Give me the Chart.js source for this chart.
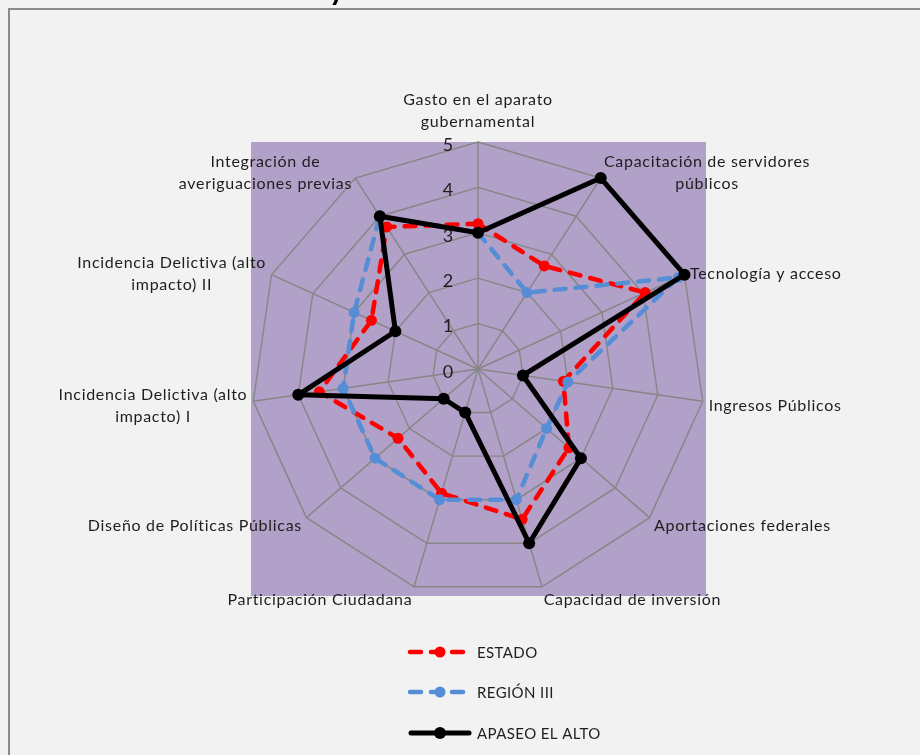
<!DOCTYPE html>
<html><head><meta charset="utf-8">
<script src="https://cdn.jsdelivr.net/npm/chart.js@4/dist/chart.umd.min.js"></script>
<style>html,body{margin:0;padding:0;background:#F2F2F2;}canvas{display:block;}</style>
</head><body>
<canvas id="c" width="920" height="755"></canvas>
<script>
const categories = [
  ['Gasto en el aparato', 'gubernamental'],
  ['Capacitación de servidores', 'públicos'],
  'Tecnología y acceso',
  'Ingresos Públicos',
  'Aportaciones federales',
  'Capacidad de inversión',
  'Participación Ciudadana',
  'Diseño de Políticas Públicas',
  ['Incidencia Delictiva (alto', 'impacto) I'],
  ['Incidencia Delictiva (alto', 'impacto) II'],
  ['Integración de', 'averiguaciones previas']
];
const estado = [3.2, 2.7, 4.05, 1.9, 2.65, 3.45, 2.85, 2.33, 3.53, 2.58, 3.72];
const region = [3.0, 2.0, 4.85, 2.0, 2.0, 3.0, 3.0, 3.0, 3.0, 3.0, 4.0];
const apaseo = [3, 5, 5, 1, 3, 4, 1, 1, 4, 2, 4];
const tickLabels = ['0', '1', '2', '3', '4', '5'];
const seriesNames = ['ESTADO', 'REGIÓN III', 'APASEO EL ALTO'];

const FONT = 'Lato, "Open Sans", sans-serif';
const TEXT = '#1e1e1e';

const backgroundPlugin = {
  id: 'bg',
  beforeDraw(chart) {
    const ctx = chart.ctx;
    const s = chart.scales.r;
    ctx.save();
    ctx.fillStyle = '#F2F2F2';
    ctx.fillRect(0, 0, chart.width, chart.height);
    ctx.fillStyle = '#000';
    ctx.font = 'bold 30px ' + FONT;
    ctx.textBaseline = 'alphabetic';
    ctx.fillText('y', 329, 0);
    ctx.strokeStyle = '#8a8a8a';
    ctx.lineWidth = 2;
    ctx.beginPath();
    ctx.moveTo(9, chart.height);
    ctx.lineTo(9, 9);
    ctx.lineTo(chart.width, 9);
    ctx.stroke();
    ctx.fillStyle = '#B1A0C7';
    const r = s.drawingArea;
    ctx.fillRect(s.xCenter - r, s.yCenter - r, 2 * r + 1, 2 * r);
    ctx.restore();
  },
  beforeDatasetsDraw(chart) {
    const ctx = chart.ctx;
    const s = chart.scales.r;
    ctx.save();
    ctx.fillStyle = TEXT;
    ctx.font = '18px ' + FONT;
    ctx.textAlign = 'center';
    ctx.textBaseline = 'middle';
    s.ticks.forEach((t, i) => {
      const d = s.getDistanceFromCenterForValue(t.value);
      ctx.fillText(tickLabels[i], s.xCenter - 30, s.yCenter - d + 3);
    });
    ctx.restore();
  },
  afterDraw(chart) {
    const ctx = chart.ctx;
    const s = chart.scales.r;
    ctx.save();
    ctx.fillStyle = TEXT;
    ctx.font = '16px ' + FONT;
    ctx.letterSpacing = '0.7px';
    ctx.textBaseline = 'middle';
    const lh = 22;
    chart.data.labels.forEach((lab, i) => {
      const lines = Array.isArray(lab) ? lab : [lab];
      const p = s.getPointPosition(i, s.drawingArea + 6);
      const dx = p.x - s.xCenter;
      const c = (s.yCenter - p.y) / (s.drawingArea + 6);
      const widths = lines.map(l => ctx.measureText(l).width);
      const w = Math.max(...widths);
      const h = lines.length * lh;
      let left;
      if (Math.abs(dx) < 1) left = p.x - w / 2;
      else if (dx > 0) left = p.x;
      else left = p.x - w;
      let top;
      if (c > 0.95) top = p.y - 3 - h;
      else if (c < -0.95) top = p.y - 4;
      else top = p.y - h / 2 + (c < 0 ? 4 : (c < 0.6 ? 1.5 : 0));
      ctx.textAlign = 'center';
      lines.forEach((l, k) => {
        ctx.fillText(l, left + w / 2, top + lh / 2 + k * lh);
      });
    });
    const dss = chart.data.datasets;
    const rows = [652, 692, 733];
    dss.forEach((ds, i) => {
      const y = rows[i];
      ctx.save();
      ctx.strokeStyle = ds.borderColor;
      ctx.lineWidth = ds.borderDash ? 4.5 : 5;
      ctx.lineCap = 'round';
      ctx.setLineDash(ds.borderDash || []);
      ctx.beginPath();
      if (ds.borderDash && ds.borderDash.length) {
        ctx.moveTo(410, y); ctx.lineTo(463, y);
      } else {
        ctx.moveTo(411, y); ctx.lineTo(469, y);
      }
      ctx.stroke();
      ctx.setLineDash([]);
      ctx.fillStyle = ds.pointBackgroundColor;
      ctx.beginPath();
      ctx.arc(440, y, ds.pointRadius, 0, Math.PI * 2);
      ctx.fill();
      ctx.restore();
      ctx.fillStyle = TEXT;
      ctx.textAlign = 'left';
      ctx.font = '15px ' + FONT;
      ctx.letterSpacing = '0.4px';
      ctx.fillText(ds.label, 477, y + 1);
    });
    ctx.restore();
  }
};

new Chart(document.getElementById('c'), {
  type: 'radar',
  data: {
    labels: categories,
    datasets: [
      {
        label: seriesNames[0], data: estado,
        borderColor: '#FF0000', backgroundColor: '#FF0000',
        pointBackgroundColor: '#FF0000', pointBorderColor: '#FF0000',
        borderWidth: 4.5, borderDash: [11, 10], borderCapStyle: 'round', borderJoinStyle: 'round',
        pointRadius: 5.5, pointBorderWidth: 0, fill: false, order: 3
      },
      {
        label: seriesNames[1], data: region,
        borderColor: '#558ED5', backgroundColor: '#558ED5',
        pointBackgroundColor: '#558ED5', pointBorderColor: '#558ED5',
        borderWidth: 4.5, borderDash: [11, 10], borderCapStyle: 'round', borderJoinStyle: 'round',
        pointRadius: 5.5, pointBorderWidth: 0, fill: false, order: 2
      },
      {
        label: seriesNames[2], data: apaseo,
        borderColor: '#000000', backgroundColor: '#000000',
        pointBackgroundColor: '#000000', pointBorderColor: '#000000',
        borderWidth: 5, borderCapStyle: 'round', borderJoinStyle: 'round',
        pointRadius: 6, pointBorderWidth: 0, fill: false, order: 1
      }
    ]
  },
  options: {
    responsive: false,
    animation: false,
    devicePixelRatio: 1,
    layout: { padding: { left: 251, right: 215, top: 142, bottom: 159 } },
    plugins: { legend: { display: false }, tooltip: { enabled: false }, title: { display: false } },
    elements: { line: { tension: 0 } },
    scales: {
      r: {
        min: 0, max: 5,
        ticks: { stepSize: 1, display: false },
        pointLabels: { display: false },
        grid: { color: '#868686', lineWidth: 1.4 },
        angleLines: { color: '#868686', lineWidth: 1.4 }
      }
    }
  },
  plugins: [backgroundPlugin]
});
</script>
</body></html>
